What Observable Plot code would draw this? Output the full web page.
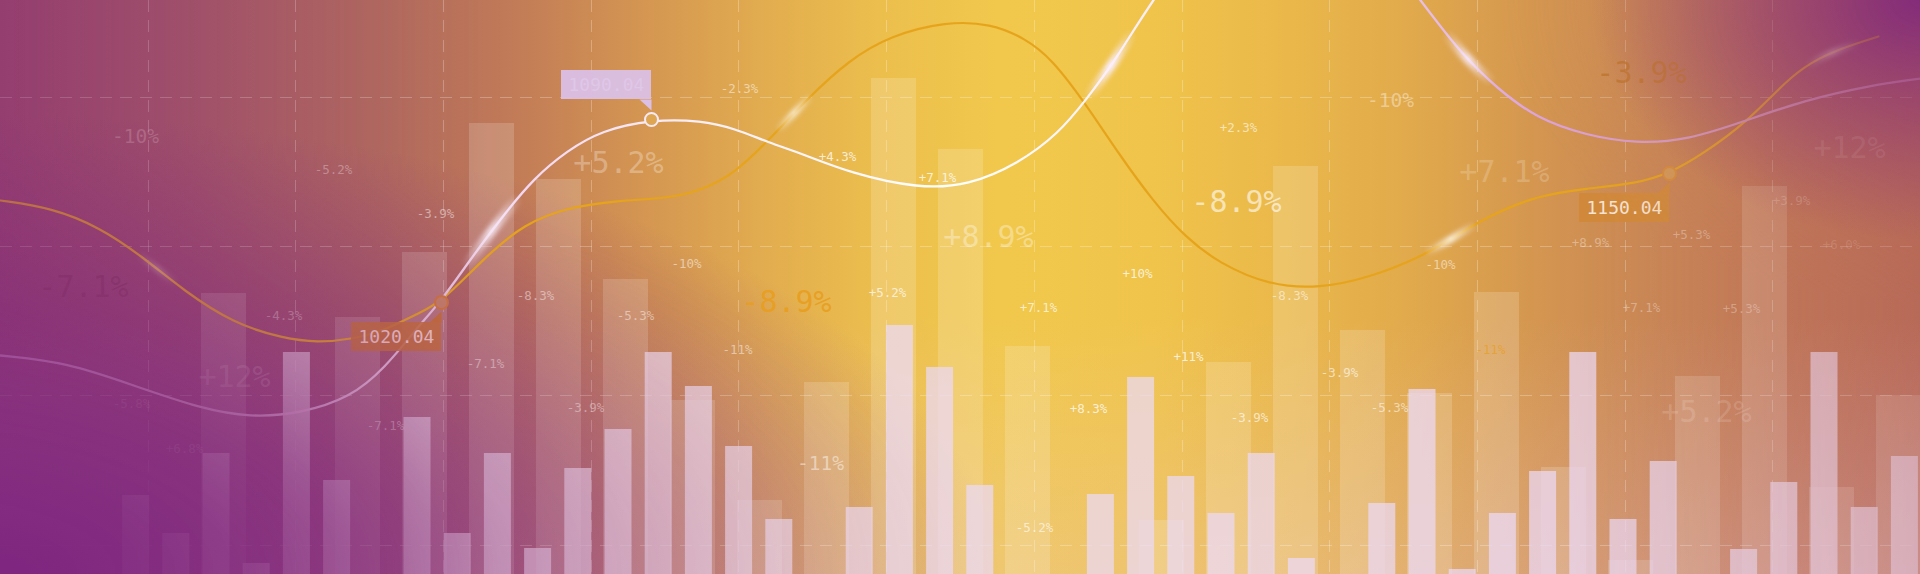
<!DOCTYPE html>
<html>
<head>
<meta charset="utf-8">
<script src="https://cdn.jsdelivr.net/npm/d3@7"></script>
<script src="https://cdn.jsdelivr.net/npm/@observablehq/plot@0.6"></script>
<style>
html, body { margin: 0; padding: 0; width: 1920px; height: 574px; overflow: hidden; background: #b06a60; }
#wrap { position: relative; width: 1920px; height: 574px; overflow: hidden; }
.layer { position: absolute; left: 0; top: 0; width: 1920px; height: 574px; }
.grad {
  background-image:
    radial-gradient(ellipse 330px 240px at 100% 0%, rgba(132,44,122,1) 0%, rgba(140,52,118,0.7) 35%, rgba(150,70,110,0) 100%),
    radial-gradient(ellipse 1000px 460px at 0% 100%, rgba(126,38,128,1) 0%, rgba(130,42,126,0.82) 35%, rgba(140,60,120,0) 100%),
    linear-gradient(to top, rgba(232,196,228,0.24) 0%, rgba(232,196,228,0) 45%),
    linear-gradient(90deg, #943e70 0%, #a0506a 10%, #b0685f 20%, #c27c57 27%, #d39452 33%, #e2ad4f 40%, #ecbf4d 46%, #f1c84c 52%, #f0c44b 60%, #eab84a 67%, #e0a84c 74%, #d49650 80%, #c98656 86%, #bf7558 93%, #b86a58 100%);
}
#fade {
  pointer-events: none;
  -webkit-mask-image:
    radial-gradient(ellipse 500px 300px at 0% 100%, rgba(0,0,0,0.8) 0%, rgba(0,0,0,0) 100%),
    radial-gradient(ellipse 950px 430px at 0% 100%, rgba(0,0,0,0.95) 0%, rgba(0,0,0,0.78) 25%, rgba(0,0,0,0.38) 55%, rgba(0,0,0,0) 100%),
    linear-gradient(90deg, rgba(0,0,0,0.45) 0%, rgba(0,0,0,0.22) 12%, rgba(0,0,0,0) 25%),
    radial-gradient(ellipse 420px 300px at 100% 0%, rgba(0,0,0,0.8) 0%, rgba(0,0,0,0) 100%),
    linear-gradient(270deg, rgba(0,0,0,0.35) 0%, rgba(0,0,0,0) 18%);
  mask-image:
    radial-gradient(ellipse 500px 300px at 0% 100%, rgba(0,0,0,0.8) 0%, rgba(0,0,0,0) 100%),
    radial-gradient(ellipse 950px 430px at 0% 100%, rgba(0,0,0,0.95) 0%, rgba(0,0,0,0.78) 25%, rgba(0,0,0,0.38) 55%, rgba(0,0,0,0) 100%),
    linear-gradient(90deg, rgba(0,0,0,0.45) 0%, rgba(0,0,0,0.22) 12%, rgba(0,0,0,0) 25%),
    radial-gradient(ellipse 420px 300px at 100% 0%, rgba(0,0,0,0.8) 0%, rgba(0,0,0,0) 100%),
    linear-gradient(270deg, rgba(0,0,0,0.35) 0%, rgba(0,0,0,0) 18%);
}
#chart svg { display: block; }
</style>
</head>
<body>
<div id="wrap">
  <div class="layer grad"></div>
  <div id="chart" class="layer"></div>
  <div id="fade" class="layer grad"></div>
</div>
<script>
const W = 1920, H = 574;

// ---------- data ----------
const backBarValues = [null, null, null, 281, null, 257, 322, 451, 395, 295, 174, 74, 192, 496, 425, 228, null, 54, 212, 408, 244, 181, 282, 107, 14, 198, 388, 87, 179];
const frontBarValues = [null, null, null, 79, 41, 121, 11, 222, 94, null, 157, 41, 121, 26, 106, 145, 222, 188, 128, 55, null, 67, 249, 207, 89, null, null, 80, 197, 98, 61, 121, 16, null, 71, 185, 5, 61, 103, 222, 55, 113, null, 25, 92, 222, 67, 118];

const gridXTicks = [148, 295, 443, 591, 738, 886, 1034, 1182, 1329, 1477, 1625, 1772];
const gridYTicks = [29, 179, 328, 477];

const whiteX = [0, 67, 133, 200, 250, 300, 350, 384, 417, 441, 467, 501, 534, 567, 601, 651, 701, 734, 768, 801, 851, 918, 968, 1018, 1058, 1085, 1115, 1151, 1215, 1290, 1360, 1420, 1462, 1497, 1536, 1586, 1636, 1686, 1746, 1803, 1869, 1920];
const whiteV = [219, 212, 189, 166, 157, 161, 177, 206, 247, 274, 311, 357, 397, 424, 444, 455, 454, 446, 432, 421, 401, 386, 389, 411, 441, 474, 514, 574, 659, 694, 654, 574, 519, 486, 456, 439, 431, 434, 454, 474, 489, 496];

const orangeX = [0, 50, 100, 143, 183, 233, 283, 317, 350, 384, 417, 441, 484, 524, 567, 617, 667, 701, 734, 768, 808, 848, 890, 946, 990, 1025, 1051, 1085, 1118, 1152, 1185, 1219, 1269, 1319, 1369, 1419, 1452, 1485, 1536, 1586, 1636, 1669, 1703, 1746, 1786, 1810, 1840, 1878];
const orangeV = [374, 367, 347, 317, 284, 251, 236, 232, 235, 244, 261, 272, 317, 351, 367, 374, 376, 384, 401, 434, 477, 514, 539, 553, 551, 536, 516, 471, 421, 374, 337, 311, 289, 286, 297, 317, 336, 357, 379, 386, 391, 401, 421, 452, 494, 512, 526, 538];

// labels: text, x, value, size rank, tone, strength
const labelText = ["-10%", "-5.2%", "-7.1%", "-4.3%", "+12%", "-5.8%", "+6.8%", "-7.1%", "-3.9%", "+5.2%", "-8.3%", "-7.1%", "-5.3%", "-3.9%", "-2.3%", "-10%", "-11%", "-8.9%", "+4.3%", "+7.1%", "+8.9%", "+5.2%", "-11%", "+7.1%", "-5.2%", "+10%", "+8.3%", "-8.9%", "+2.3%", "-10%", "+11%", "-3.9%", "-8.3%", "-3.9%", "-5.3%", "+7.1%", "-10%", "-11%", "-3.9%", "+12%", "+3.9%", "+8.9%", "+5.3%", "+6.0%", "+7.1%", "+5.3%", "+5.2%"];
const labelX = [135, 333, 83, 283, 234, 131, 184, 385, 435, 618, 535, 485, 635, 585, 739, 686, 737, 786, 837, 937, 988, 887, 820, 1038, 1034, 1137, 1088, 1236, 1238, 1390, 1188, 1249, 1289, 1339, 1389, 1504, 1440, 1490, 1641, 1849, 1791, 1590, 1691, 1841, 1641, 1741, 1706];
const labelV = [438, 405, 287, 259, 197, 171, 126, 149, 361, 411, 279, 211, 259, 167, 486, 311, 225, 272, 418, 397, 337, 282, 111, 267, 47, 301, 166, 372, 447, 474, 218, 157, 279, 202, 167, 402, 310, 225, 501, 426, 374, 332, 340, 330, 267, 266, 162];
const labelRank = [2, 1, 3, 1, 3, 1, 1, 1, 1, 3, 1, 1, 1, 1, 1, 1, 1, 3, 1, 1, 3, 1, 2, 1, 1, 1, 1, 3, 1, 2, 1, 1, 1, 1, 1, 3, 1, 1, 3, 3, 1, 1, 1, 1, 1, 1, 3];
const labelTone = ["w", "w", "d", "w", "w", "w", "w", "w", "w", "w", "w", "w", "w", "w", "w", "w", "w", "o", "w", "w", "w", "w", "w", "w", "w", "w", "w", "w", "w", "w", "w", "w", "w", "w", "w", "w", "w", "o", "b", "w", "w", "w", "w", "w", "w", "w", "w"];
const labelStrength = [0.25, 0.35, 0.45, 0.4, 0.2, 0.25, 0.3, 0.45, 0.5, 0.3, 0.5, 0.5, 0.5, 0.5, 0.5, 0.5, 0.5, 0.9, 0.75, 0.75, 0.35, 0.7, 0.5, 0.7, 0.6, 0.75, 0.75, 0.6, 0.6, 0.4, 0.75, 0.65, 0.55, 0.6, 0.55, 0.2, 0.5, 0.7, 0.75, 0.18, 0.28, 0.35, 0.35, 0.2, 0.35, 0.35, 0.18];

const markerX = [651, 441, 1669];
const markerV = [455, 272, 401];
const markerSeries = ["white", "rust", "amber"];

const calloutX = [441, 1669, 651];
const calloutV = [272, 401, 455];
const calloutLabel = ["1020.04", "1150.04", "1090.04"];
const calloutSide = ["below", "below", "above"];
const calloutTone = ["rust", "amber", "lilac"];

const glintWhiteX = [490, 1110, 1468];
const glintWhiteV = [344, 509, 516];
const glintWhiteR = [46, 42, 36];
const glintWhiteA = [0.9, 1, 0.85];
const glintOrangeX = [158, 793, 1450, 1832];
const glintOrangeV = [307, 462, 336, 522];
const glintOrangeR = [26, 26, 30, 30];
const glintOrangeA = [0.35, 0.75, 0.85, 0.7];

// ---------- layout / style ----------
const BACK_STEP = 67, BACK_W = 45;
const FRONT_STEP = 40.2, FRONT_OFF = 1.5, FRONT_W = 27;
const BOX_W = 90, BOX_H = 29, GAP = 20, PAD = 7, TAIL = 11;
const FONT = "DejaVu Sans Mono";
const rankSize = {1: 12.5, 2: 19.5, 3: 30};
const toneRGB = {w: [255, 255, 255], o: [232, 158, 30], d: [110, 28, 82], b: [186, 110, 36]};
const markerStyle = {
  white: {stroke: "#f6eaf6", fill: "#dea653"},
  rust: {stroke: "#cf7438", fill: "#c47f6a"},
  amber: {stroke: "#d68c3a", fill: "#d39a5a"}
};
const calloutStyle = {
  rust: {box: "#c46c34", ink: "#f6d6dc", boxOpacity: 0.88},
  amber: {box: "#d1893a", ink: "#f8e6d8", boxOpacity: 0.95},
  lilac: {box: "#dbbfe4", ink: "#dfc7e8", boxOpacity: 0.96}
};

// ---------- tables ----------
const backBars = backBarValues.map((v, i) => ({i, v})).filter(d => d.v != null);
const frontBars = frontBarValues.map((v, i) => ({i, v})).filter(d => d.v != null);
const whitePts = whiteX.map((x, i) => ({x, v: whiteV[i]}));
const orangePts = orangeX.map((x, i) => ({x, v: orangeV[i]}));
const labels = labelText.map((t, i) => ({t, x: labelX[i], v: labelV[i], r: labelRank[i], tone: labelTone[i], a: labelStrength[i]}));
const markers = markerX.map((x, i) => ({x, v: markerV[i], s: markerSeries[i]}));
const callouts = calloutX.map((x, i) => ({x, v: calloutV[i], label: calloutLabel[i], side: calloutSide[i], tone: calloutTone[i], id: i}));
const tails = callouts.flatMap(d => {
  const s = d.side === "below" ? -1 : 1;
  return [
    {id: d.id, tone: d.tone, x: d.x - 12, v: d.v + s * GAP},
    {id: d.id, tone: d.tone, x: d.x, v: d.v + s * GAP},
    {id: d.id, tone: d.tone, x: d.x, v: d.v + s * (GAP - TAIL)}
  ];
});
const glintsW = glintWhiteX.map((x, i) => ({x, v: glintWhiteV[i], r: glintWhiteR[i], a: glintWhiteA[i]}));
const glintsO = glintOrangeX.map((x, i) => ({x, v: glintOrangeV[i], r: glintOrangeR[i], a: glintOrangeA[i]}));

const labelFill = d => { const c = toneRGB[d.tone]; return `rgba(${c[0]},${c[1]},${c[2]},${d.a})`; };
const boxY1 = d => d.side === "below" ? d.v - GAP - BOX_H : d.v + GAP;
const boxY2 = d => d.side === "below" ? d.v - GAP : d.v + GAP + BOX_H;

const textMarks = [1, 2, 3].map(r => Plot.text(labels.filter(d => d.r === r), {
  x: "x", y: "v", text: "t", fill: labelFill, fontSize: rankSize[r], fontFamily: FONT, textAnchor: "middle"
}));

const CURVE = "basis";

const plot = Plot.plot({
  width: W, height: H, margin: 0,
  x: {domain: [0, W], range: [0, W], axis: null},
  y: {domain: [0, H], range: [H, 0], axis: null},
  color: {type: "identity"},
  style: {background: "transparent", overflow: "hidden"},
  marks: [
    Plot.rect(backBars, {x1: d => d.i * BACK_STEP, x2: d => d.i * BACK_STEP + BACK_W, y1: () => 0, y2: "v", fill: "#ffffff", fillOpacity: 0.17}),
    Plot.ruleX(gridXTicks, {stroke: "#ffffff", strokeOpacity: 0.26, strokeDasharray: "12,8"}),
    Plot.ruleY(gridYTicks, {stroke: "#ffffff", strokeOpacity: 0.26, strokeDasharray: "12,8"}),
    Plot.rect(frontBars, {x1: d => FRONT_OFF + d.i * FRONT_STEP, x2: d => FRONT_OFF + d.i * FRONT_STEP + FRONT_W, y1: () => 0, y2: "v", fill: "#ecdaf8", fillOpacity: 0.72}),
    ...textMarks,
    Plot.line(orangePts, {x: "x", y: "v", curve: CURVE, stroke: "#e6a41c", strokeWidth: 2.2, ariaDescription: "orange-curve"}),
    Plot.line(whitePts, {x: "x", y: "v", curve: CURVE, stroke: "#f6eef8", strokeWidth: 2.3, ariaDescription: "white-curve"}),
    Plot.line(orangePts, {x: "x", y: "v", curve: CURVE, stroke: "#ffffff", strokeWidth: 7, ariaDescription: "glint-orange"}),
    Plot.line(whitePts, {x: "x", y: "v", curve: CURVE, stroke: "#fbeefc", strokeWidth: 10, ariaDescription: "glint-white"}),
    Plot.rect(callouts, {x1: d => d.x - BOX_W, x2: "x", y1: boxY1, y2: boxY2, fill: d => calloutStyle[d.tone].box, fillOpacity: d => calloutStyle[d.tone].boxOpacity}),
    Plot.line(tails, {x: "x", y: "v", z: "id", fill: d => calloutStyle[d.tone].box, stroke: "none"}),
    Plot.text(callouts, {x: d => d.x - BOX_W + PAD, y: d => (boxY1(d) + boxY2(d)) / 2, text: "label", textAnchor: "start", fontSize: 18, fontFamily: FONT, fill: d => calloutStyle[d.tone].ink}),
    Plot.dot(markers, {x: "x", y: "v", r: 6.5, stroke: d => markerStyle[d.s].stroke, fill: d => markerStyle[d.s].fill, strokeWidth: 2})
  ]
});

document.getElementById("chart").appendChild(plot);

// ---------- glints & curve gradient (decoration) ----------
(function () {
  const ns = "http://www.w3.org/2000/svg";
  const svg = plot.tagName.toLowerCase() === "svg" ? plot : plot.querySelector("svg");
  let sx = v => v, sy = v => H - v;
  try { const xs = plot.scale("x"), ys = plot.scale("y"); if (xs && xs.apply) sx = xs.apply; if (ys && ys.apply) sy = ys.apply; } catch (e) {}
  const defs = document.createElementNS(ns, "defs");
  defs.innerHTML = `
    <radialGradient id="glintGrad" cx="50%" cy="50%" r="50%">
      <stop offset="0" stop-color="#fff" stop-opacity="1"/>
      <stop offset="0.45" stop-color="#fff" stop-opacity="0.55"/>
      <stop offset="1" stop-color="#fff" stop-opacity="0"/>
    </radialGradient>
    <filter id="glintBlur" filterUnits="userSpaceOnUse" x="-50" y="-300" width="2020" height="1000">
      <feGaussianBlur stdDeviation="2.8"/>
    </filter>
    <linearGradient id="whiteStroke" gradientUnits="userSpaceOnUse" x1="0" y1="0" x2="${W}" y2="0">
      <stop offset="0" stop-color="#e0a8f0"/>
      <stop offset="0.22" stop-color="#eccaf0"/>
      <stop offset="0.36" stop-color="#fbeef6"/>
      <stop offset="0.5" stop-color="#ffffff"/>
      <stop offset="0.66" stop-color="#f7e2f2"/>
      <stop offset="0.8" stop-color="#dca4dc"/>
      <stop offset="1" stop-color="#d190d8"/>
    </linearGradient>`;
  function makeMask(id, glints) {
    const m = document.createElementNS(ns, "mask");
    m.setAttribute("id", id);
    m.setAttribute("maskUnits", "userSpaceOnUse");
    m.setAttribute("x", 0); m.setAttribute("y", 0); m.setAttribute("width", W); m.setAttribute("height", H);
    for (const g of glints) {
      const e = document.createElementNS(ns, "ellipse");
      e.setAttribute("cx", sx(g.x)); e.setAttribute("cy", sy(g.v));
      e.setAttribute("rx", g.r); e.setAttribute("ry", g.r);
      e.setAttribute("fill", "url(#glintGrad)");
      e.setAttribute("opacity", g.a);
      m.appendChild(e);
    }
    defs.appendChild(m);
  }
  makeMask("maskW", glintsW);
  makeMask("maskO", glintsO);
  svg.insertBefore(defs, svg.firstChild);
  const groups = Array.from(svg.querySelectorAll(":scope > g"));
  const find = (desc, idx) => svg.querySelector(`g[aria-description="${desc}"]`) || groups[idx];
  const nText = textMarks.length;
  const gWC = find("white-curve", 5 + nText);
  const gGO = find("glint-orange", 6 + nText);
  const gGW = find("glint-white", 7 + nText);
  if (gWC) { gWC.setAttribute("stroke", "url(#whiteStroke)"); gWC.querySelectorAll("path").forEach(p => p.setAttribute("stroke", "url(#whiteStroke)")); }
  for (const [g, m] of [[gGO, "maskO"], [gGW, "maskW"]]) {
    if (!g) continue;
    g.setAttribute("mask", `url(#${m})`);
    g.setAttribute("filter", "url(#glintBlur)");
  }
})();
</script>
</body>
</html>
